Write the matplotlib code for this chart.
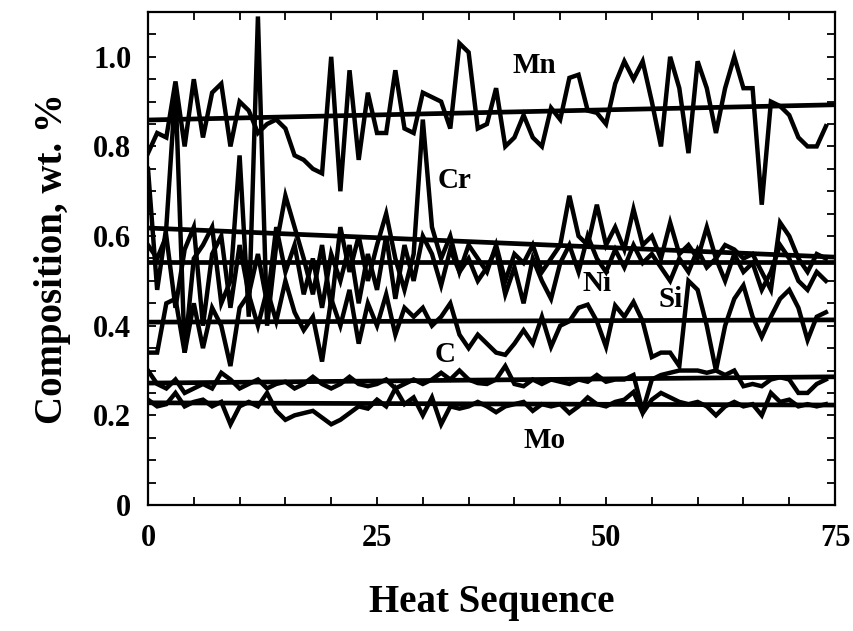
import numpy as np
import matplotlib
matplotlib.use("Agg")
import matplotlib.pyplot as plt
from matplotlib.ticker import MultipleLocator, FixedLocator

# ───────────────────────────────
# Data (composition per heat, wt. %)
# ───────────────────────────────
heat = list(range(75))

mn = [0.785, 0.83, 0.82, 0.945, 0.80, 0.95, 0.82, 0.92, 0.94, 0.80,
      0.90, 0.88, 0.83, 0.85, 0.86, 0.84, 0.78, 0.77, 0.75, 0.74,
      1.00, 0.70, 0.97, 0.77, 0.92, 0.83, 0.83, 0.97, 0.84, 0.83,
      0.92, 0.91, 0.90, 0.84, 1.03, 1.01, 0.84, 0.85, 0.93, 0.80,
      0.82, 0.87, 0.82, 0.80, 0.886, 0.86, 0.953, 0.96, 0.88, 0.875,
      0.85, 0.94, 0.99, 0.95, 0.99, 0.90, 0.80, 1.00, 0.93, 0.785,
      0.99, 0.93, 0.83, 0.93, 1.00, 0.93, 0.93, 0.67, 0.90, 0.89,
      0.87, 0.82, 0.80, 0.80, 0.845]

cr = [0.75, 0.48, 0.62, 0.93, 0.34, 0.55, 0.58, 0.62, 0.45, 0.50,
      0.78, 0.42, 1.09, 0.40, 0.58, 0.69, 0.62, 0.55, 0.47, 0.58,
      0.44, 0.62, 0.52, 0.60, 0.50, 0.58, 0.65, 0.55, 0.48, 0.56,
      0.86, 0.62, 0.55, 0.60, 0.52, 0.58, 0.55, 0.52, 0.58, 0.50,
      0.56, 0.54, 0.58, 0.52, 0.55, 0.58, 0.69, 0.60, 0.58, 0.67,
      0.58, 0.62, 0.57, 0.66, 0.58, 0.60, 0.55, 0.63, 0.56, 0.58,
      0.55, 0.62, 0.55, 0.58, 0.57, 0.55, 0.56, 0.52, 0.48, 0.63,
      0.60, 0.55, 0.52, 0.56, 0.55]

ni = [0.58, 0.55, 0.60, 0.44, 0.57, 0.62, 0.40, 0.56, 0.60, 0.44,
      0.58, 0.47, 0.56, 0.45, 0.62, 0.52, 0.58, 0.47, 0.55, 0.44,
      0.56, 0.50, 0.58, 0.45, 0.56, 0.48, 0.60, 0.46, 0.58, 0.50,
      0.60, 0.56, 0.49, 0.57, 0.52, 0.55, 0.50, 0.53, 0.57, 0.47,
      0.53, 0.45, 0.55, 0.50, 0.46, 0.54, 0.58, 0.52, 0.60, 0.55,
      0.52, 0.57, 0.53, 0.58, 0.54, 0.56, 0.53, 0.50, 0.55, 0.52,
      0.57, 0.53, 0.55, 0.50, 0.56, 0.52, 0.54, 0.48, 0.52, 0.58,
      0.55, 0.50, 0.48, 0.52, 0.50]

si = [0.34, 0.34, 0.45, 0.46, 0.34, 0.45, 0.35, 0.44, 0.40, 0.31,
      0.44, 0.47, 0.40, 0.48, 0.41, 0.50, 0.43, 0.39, 0.42, 0.32,
      0.46, 0.40, 0.48, 0.36, 0.45, 0.40, 0.47, 0.38, 0.44, 0.42,
      0.44, 0.40, 0.42, 0.45, 0.38, 0.35, 0.38, 0.36, 0.34, 0.335,
      0.36, 0.39, 0.36, 0.42, 0.353, 0.40, 0.41, 0.44, 0.447, 0.41,
      0.353, 0.445, 0.42, 0.453, 0.41, 0.33, 0.34, 0.34, 0.31, 0.50,
      0.48, 0.40, 0.30, 0.40, 0.46, 0.49, 0.42, 0.375, 0.42, 0.46,
      0.48, 0.44, 0.368, 0.42, 0.43]

c = [0.30, 0.27, 0.26, 0.28, 0.25, 0.26, 0.27, 0.26, 0.295, 0.28,
     0.26, 0.27, 0.28, 0.26, 0.27, 0.275, 0.26, 0.27, 0.286, 0.27,
     0.26, 0.27, 0.286, 0.27, 0.265, 0.27, 0.28, 0.26, 0.27, 0.28,
     0.27, 0.28, 0.295, 0.28, 0.30, 0.28, 0.272, 0.27, 0.28, 0.31,
     0.27, 0.265, 0.28, 0.27, 0.28, 0.275, 0.27, 0.28, 0.275, 0.29,
     0.275, 0.28, 0.28, 0.29, 0.21, 0.28, 0.29, 0.295, 0.30, 0.30,
     0.30, 0.295, 0.30, 0.29, 0.30, 0.265, 0.27, 0.265, 0.28, 0.285,
     0.28, 0.25, 0.25, 0.27, 0.28]

mo = [0.235, 0.22, 0.225, 0.25, 0.22, 0.23, 0.235, 0.22, 0.23, 0.18,
      0.22, 0.23, 0.22, 0.25, 0.21, 0.19, 0.20, 0.205, 0.21, 0.195,
      0.18, 0.19, 0.205, 0.22, 0.215, 0.235, 0.22, 0.26, 0.225, 0.24,
      0.20, 0.24, 0.18, 0.22, 0.215, 0.22, 0.23, 0.22, 0.207, 0.22,
      0.225, 0.23, 0.21, 0.225, 0.22, 0.225, 0.205, 0.22, 0.24, 0.225,
      0.22, 0.23, 0.235, 0.252, 0.205, 0.235, 0.25, 0.24, 0.23, 0.225,
      0.23, 0.22, 0.20, 0.22, 0.23, 0.22, 0.225, 0.20, 0.25, 0.23,
      0.235, 0.22, 0.225, 0.22, 0.225]

# trend lines: value at heat 0 and heat 75
trend_x = [0, 75]
trend_mn = [0.859, 0.893]
trend_cr = [0.618, 0.553]
trend_ni = [0.542, 0.542]
trend_si = [0.408, 0.413]
trend_c = [0.272, 0.286]
trend_mo = [0.228, 0.223]

labels = {"Mn": (42.2, 0.98), "Cr": (33.5, 0.725), "Ni": (49.0, 0.495),
          "Si": (57.0, 0.458), "C": (32.4, 0.335), "Mo": (43.3, 0.145)}

# ───────────────────────────────
# Plot
# ───────────────────────────────
plt.rcParams["font.family"] = ["Liberation Serif", "DejaVu Serif"]
plt.rcParams["font.weight"] = "bold"

fig = plt.figure(figsize=(8.54, 6.31), dpi=100)
ax = fig.add_axes([0.1733, 0.1997, 0.8045, 0.7813])

for series in (mn, cr, ni, si, c, mo):
    ax.plot(heat, series, color="black", lw=3.2, solid_joinstyle="miter")
for tr in (trend_mn, trend_cr, trend_ni, trend_si, trend_c, trend_mo):
    ax.plot(trend_x, tr, color="black", lw=3.4)

for name, (lx, ly) in labels.items():
    ax.text(lx, ly, name, fontsize=21, fontweight="bold", ha="center", va="center")

ax.set_xlim(0, 75)
ax.set_ylim(0, 1.1)
ax.xaxis.set_major_locator(FixedLocator([0, 25, 50, 75]))
ax.xaxis.set_minor_locator(MultipleLocator(5))
ax.yaxis.set_major_locator(FixedLocator([0, 0.2, 0.4, 0.6, 0.8, 1.0]))
ax.yaxis.set_minor_locator(MultipleLocator(0.05))
ax.set_yticklabels(["0", "0.2", "0.4", "0.6", "0.8", "1.0"])
ax.set_xticklabels(["0", "25", "50", "75"])

ax.tick_params(which="both", direction="in", top=True, right=True,
               length=6, width=1.3)
ax.tick_params(axis="x", labelsize=22, pad=14)
ax.tick_params(axis="y", labelsize=22, pad=12)
for sp in ax.spines.values():
    sp.set_linewidth(1.6)

ax.set_xlabel("Heat Sequence", fontsize=28, fontweight="bold", labelpad=22)
ax.set_ylabel("Composition, wt. %", fontsize=28, fontweight="bold", labelpad=16)

fig.savefig("out.png", dpi=100)
